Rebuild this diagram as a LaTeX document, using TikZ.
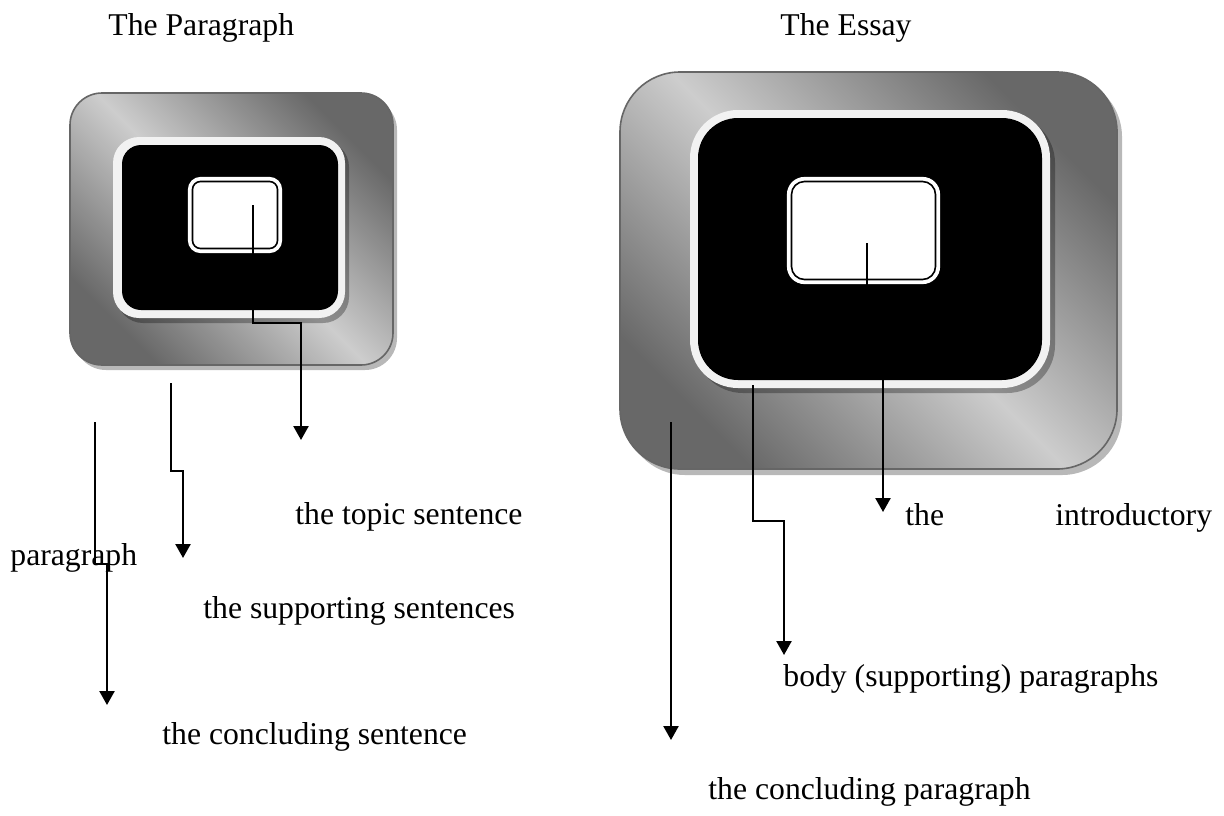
\documentclass[tikz,border=0pt]{standalone}
\usepackage{fontspec}
\setmainfont{Liberation Serif}
\usetikzlibrary{arrows.meta}

\definecolor{shellDark}{HTML}{686868}
\definecolor{shellLight}{HTML}{CDCDCD}
\definecolor{shellLine}{HTML}{666666}
\definecolor{shellShadow}{HTML}{B8B8B8}
\definecolor{rimWhite}{HTML}{F2F2F2}

\tikzset{
  shell/.style={draw=shellLine, line width=0.8pt,
    top color=shellDark, bottom color=shellDark, middle color=shellLight,
    shading angle=-45},
  shellshade/.style={fill=shellShadow},
  rim/.style={fill=rimWhite},
  rimshade/.style={fill=black, opacity=0.3},
  core/.style={fill=black},
  kernelout/.style={draw=white, fill=white, line width=1.6pt},
  kernelin/.style={draw=black, line width=0.8pt},
  conn/.style={line width=1.2pt, -{Triangle[width=7.5pt,length=7pt]}},
  label/.style={anchor=base west, inner sep=0pt, font=\fontsize{15.85}{19}\selectfont}
}

\begin{document}
\begin{tikzpicture}[x=0.5pt,y=-0.5pt]
\useasboundingbox (0,0) rectangle (1224,815);

% ---------- The Paragraph ----------
\fill[shellshade, rounded corners=16pt] (74,98) rectangle (397,370);
\path[shell, rounded corners=16pt] (70,93) rectangle (393,365);
\fill[rimshade, rounded corners=13pt] (117,141) rectangle (349,323);
\fill[rim, rounded corners=13pt] (113,137) rectangle (345,318);
\fill[core, rounded corners=9.5pt] (122,145) rectangle (338,310);
\path[kernelout, rounded corners=5.5pt] (189.5,178.5) rectangle (280.5,251.5);
\path[kernelin, rounded corners=4pt] (192.5,181.5) rectangle (277.5,248.5);

% ---------- The Essay ----------
\fill[shellshade, rounded corners=30pt] (625,77) rectangle (1122,475);
\path[shell, rounded corners=30pt] (620,72) rectangle (1117,469);
\fill[rimshade, rounded corners=24pt] (695,115) rectangle (1055,393);
\fill[rim, rounded corners=24pt] (690,110) rectangle (1050,388);
\fill[core, rounded corners=20pt] (698,118) rectangle (1042,380);
\path[kernelout, rounded corners=8pt] (788.5,178.5) rectangle (938.5,282.5);
\path[kernelin, rounded corners=6.5pt] (791.5,181.5) rectangle (935.5,279.5);

% ---------- labels ----------
\node[label] (tPar)   at (108,35)  {The Paragraph};
\node[label] (tEss)   at (780,35)  {The Essay};
\node[label] (lTopic) at (295,524) {the topic sentence};
\node[label] (lThe)   at (905,525) {the};
\node[label] (lIntro) at (1055,525) {introductory};
\node[label] (lPara)  at (10,565)  {paragraph};
\node[label] (lSupp)  at (203,618) {the supporting sentences};
\node[label] (lBody)  at (783,686) {body (supporting) paragraphs};
\node[label] (lConc)  at (162,744) {the concluding sentence};
\node[label] (lConP)  at (708,799) {the concluding paragraph};

% ---------- connector ends ----------
\coordinate (pTopicA) at (253,205);
\coordinate (pTopicZ) at (301,440);
\coordinate (pSuppA)  at (171,383);
\coordinate (pSuppZ)  at (183,558);
\coordinate (pConcA)  at (95,422);
\coordinate (pConcZ)  at (107,705);
\coordinate (eIntroA) at (867,243);
\coordinate (eIntroZ) at (883,512);
\coordinate (eBodyA)  at (753,385);
\coordinate (eBodyZ)  at (784,655);
\coordinate (eConcA)  at (671,422);
\coordinate (eConcZ)  at (671,740);

% ---------- connectors ----------
\draw[conn] (pTopicA) -- (253,323) -| (pTopicZ);
\draw[conn] (pSuppA) -- (171,471) -| (pSuppZ);
\draw[conn] (pConcA) -- (95,564) -| (pConcZ);
\draw[conn] (eIntroA) -- (867,330) -| (eIntroZ);
\draw[conn] (eBodyA) -- (753,521) -| (eBodyZ);
\draw[conn] (eConcA) -- (eConcZ);
\end{tikzpicture}
\end{document}
